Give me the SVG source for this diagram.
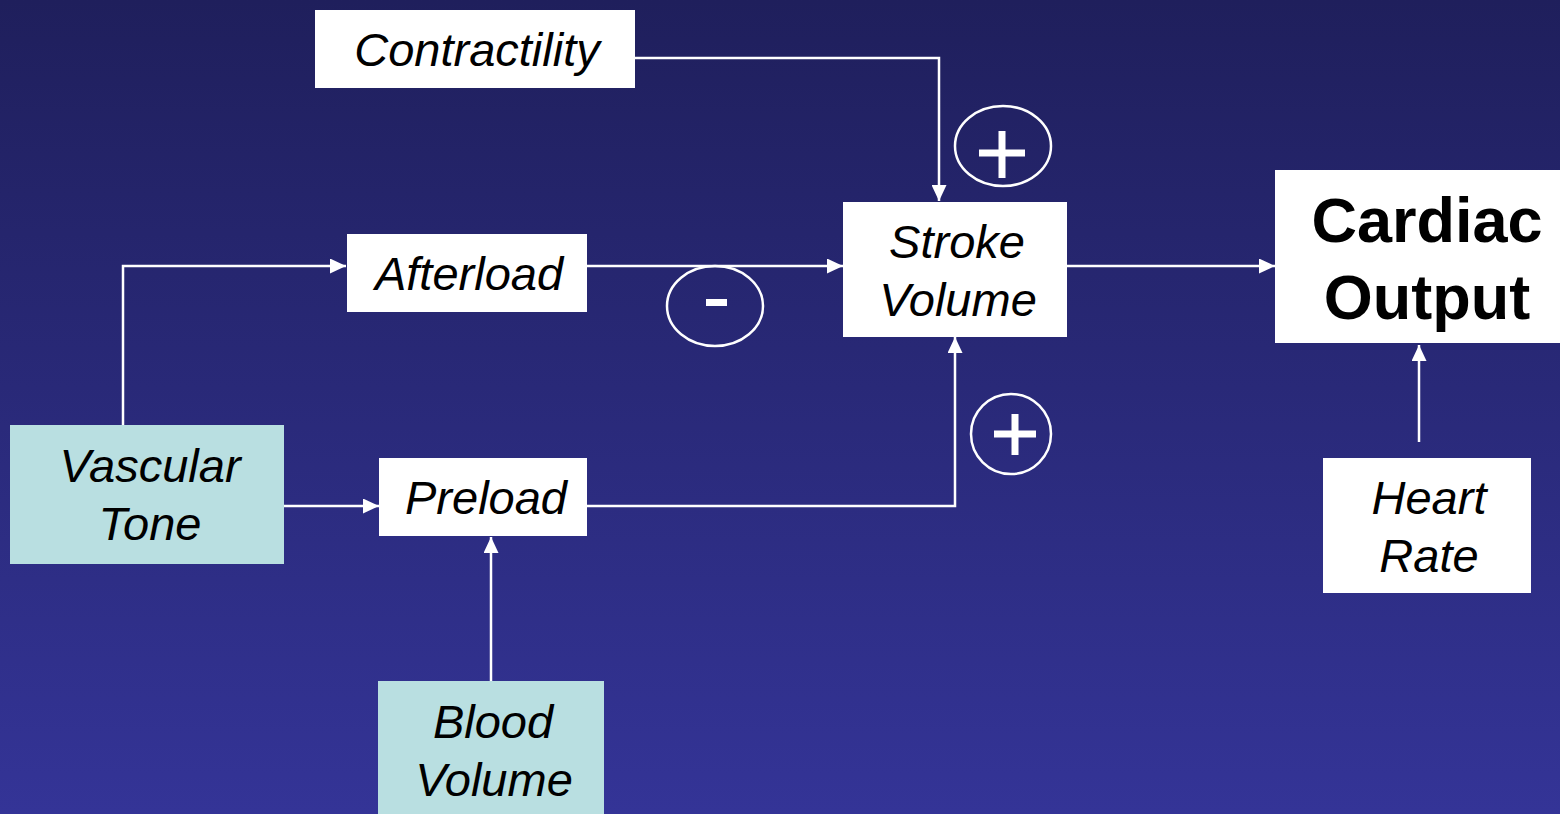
<svg xmlns="http://www.w3.org/2000/svg" width="1560" height="814" viewBox="0 0 1560 814">
<defs>
<linearGradient id="bg" x1="0" y1="0" x2="0" y2="1">
<stop offset="0" stop-color="#1f1f5c"/>
<stop offset="1" stop-color="#343497"/>
</linearGradient>
<marker id="ah" viewBox="0 0 16 15" refX="16" refY="7.5" markerWidth="16" markerHeight="15" markerUnits="userSpaceOnUse" orient="auto">
<path d="M0,0 L16,7.5 L0,15 Z" fill="#fff"/>
</marker>
<style>
.box{fill:#fff}
.teal{fill:#b9dfe1}
.t{font-family:"Liberation Sans",Arial,sans-serif;font-style:italic;font-size:47px;fill:#000;text-anchor:middle}
.b{font-family:"Liberation Sans",Arial,sans-serif;font-weight:bold;font-size:63px;fill:#000;text-anchor:middle}
.c{fill:none;stroke:#fff;stroke-width:2.5;marker-end:url(#ah)}
.ring{fill:none;stroke:#fff;stroke-width:2.5}
.sign{stroke:#fff;stroke-width:7;fill:none}
</style>
</defs>
<rect width="1560" height="814" fill="url(#bg)"/>
<g id="connectors">
<path class="c" d="M635,58 H939 V201"/>
<path class="c" d="M123,425 V266 H346"/>
<path class="c" d="M587,266 H843"/>
<path class="c" d="M284,506 H379"/>
<path class="c" d="M587,506 H955 V337"/>
<path class="c" d="M491,681 V537"/>
<path class="c" d="M1067,266 H1275"/>
<path class="c" d="M1419,442 V345"/>
</g>
<g id="sign-plus-top">
<ellipse class="ring" cx="1003" cy="146" rx="48" ry="40"/>
<path class="sign" d="M979,153 H1025 M1002,131 V178"/>
</g>
<g id="sign-minus">
<ellipse class="ring" cx="715" cy="306" rx="48" ry="40"/>
<rect x="706" y="299" width="21" height="7" fill="#fff"/>
</g>
<g id="sign-plus-bottom">
<ellipse class="ring" cx="1011" cy="434" rx="40" ry="40"/>
<path class="sign" d="M994,434 H1036 M1015,414 V455"/>
</g>
<g id="contractility">
<rect class="box" x="315" y="10" width="320" height="78"/>
<text class="t" x="477" y="66">Contractility</text>
</g>
<g id="afterload">
<rect class="box" x="347" y="234" width="240" height="78"/>
<text class="t" x="469" y="290">Afterload</text>
</g>
<g id="stroke-volume">
<rect class="box" x="843" y="202" width="224" height="135"/>
<text class="t" x="957" y="258">Stroke</text>
<text class="t" x="958" y="316">Volume</text>
</g>
<g id="cardiac-output">
<rect class="box" x="1275" y="170" width="285" height="173"/>
<text class="b" x="1427" y="242">Cardiac</text>
<text class="b" x="1427" y="319">Output</text>
</g>
<g id="vascular-tone">
<rect class="teal" x="10" y="425" width="274" height="139"/>
<text class="t" x="150" y="482">Vascular</text>
<text class="t" x="150" y="540">Tone</text>
</g>
<g id="preload">
<rect class="box" x="379" y="458" width="208" height="78"/>
<text class="t" x="486" y="514">Preload</text>
</g>
<g id="blood-volume">
<rect class="teal" x="378" y="681" width="226" height="140"/>
<text class="t" x="493" y="738">Blood</text>
<text class="t" x="494" y="796">Volume</text>
</g>
<g id="heart-rate">
<rect class="box" x="1323" y="458" width="208" height="135"/>
<text class="t" x="1429" y="514">Heart</text>
<text class="t" x="1429" y="572">Rate</text>
</g>
</svg>
